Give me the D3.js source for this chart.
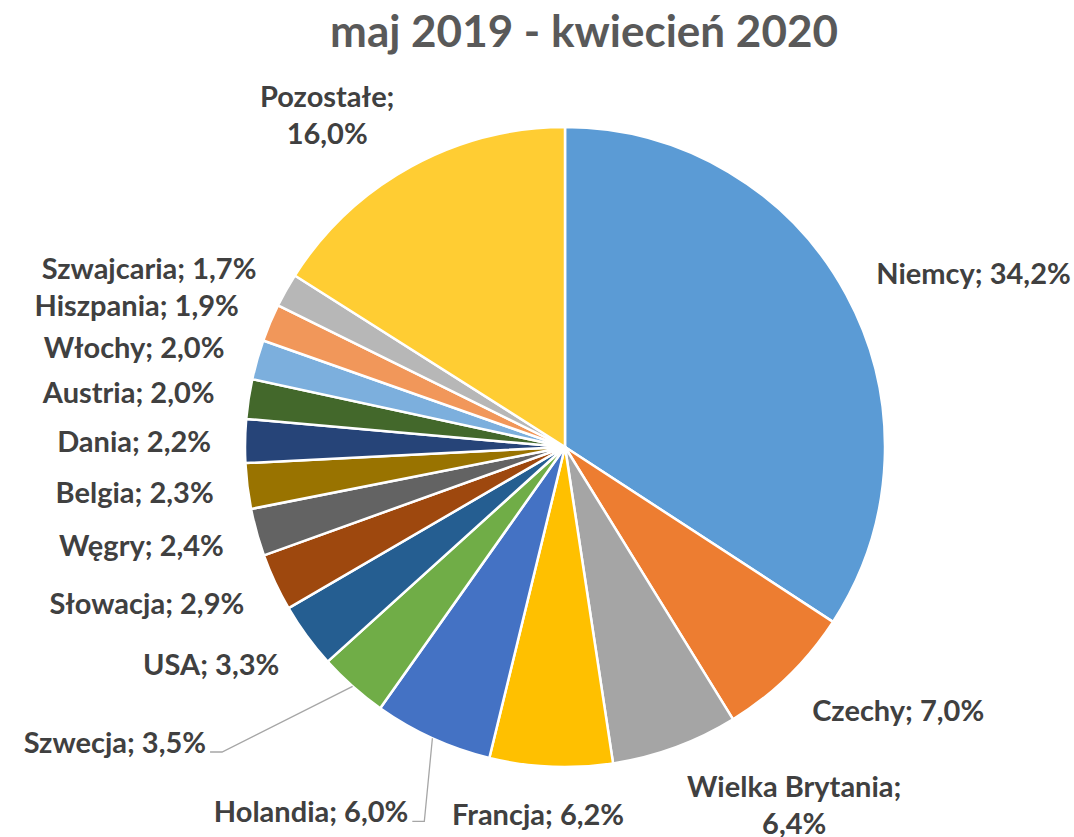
<!DOCTYPE html>
<meta charset="utf-8">
<html>
<head>
<style>
body { margin: 0; background: #fff; }
.title { font-family: Lato, "Open Sans", sans-serif; font-weight: bold; fill: #595959; }
.lbl { font-family: Lato, "Open Sans", sans-serif; font-weight: bold; fill: #404040; }
</style>
</head>
<body>
<svg width="1074" height="837"></svg>
<script src="https://cdn.jsdelivr.net/npm/d3@7"></script>
<script>

var categories = ["Niemcy", "Czechy", "Wielka Brytania", "Francja", "Holandia", "Szwecja", "USA",
  "Słowacja", "Węgry", "Belgia", "Dania", "Austria", "Włochy", "Hiszpania", "Szwajcaria", "Pozostałe"];
var values = [34.2, 7.0, 6.4, 6.2, 6.0, 3.5, 3.3, 2.9, 2.4, 2.3, 2.2, 2.0, 2.0, 1.9, 1.7, 16.0];
var colors = ["#5B9BD5", "#ED7D31", "#A5A5A5", "#FFC000", "#4472C4", "#70AD47", "#255E91",
  "#9E480E", "#636363", "#997300", "#264478", "#43682B", "#7CAFDD", "#F1975A", "#B7B7B7", "#FFCD33"];
var title = "maj 2019 - kwiecień 2020";

// labels that Excel wrapped onto two lines, and the ones it pulled away with a leader line
var wrapped = ["Wielka Brytania", "Pozostałe"];
var moved = { "Holandia": [-10, 30], "Szwecja": [-124, 20] };

var svg = d3.select("svg"),
    cx = 565, cy = 447, radius = 320, labelR = 354, lineH = 37;

svg.append("text")
    .attr("class", "title")
    .attr("x", 584).attr("y", 47)
    .attr("text-anchor", "middle")
    .style("font-size", "44px")
    .text(title);

var color = d3.scaleOrdinal().domain(categories).range(colors);
var fmt = function(v) { return d3.format(".1f")(v).replace(".", ",") + "%"; };

var arcs = d3.pie().sort(null).value(function(d) { return d; })(values);
var arc = d3.arc().innerRadius(0).outerRadius(radius);

var g = svg.append("g").attr("transform", "translate(" + cx + "," + cy + ")");

g.selectAll("path.slice")
  .data(arcs)
  .enter().append("path")
    .attr("class", "slice")
    .attr("d", arc)
    .attr("fill", function(d, i) { return color(categories[i]); })
    .attr("stroke", "#fff")
    .attr("stroke-width", 2.5)
    .attr("stroke-linejoin", "round");

var clamp = function(v) { return Math.max(-1, Math.min(1, v)); };

var leaders = g.append("g");

g.selectAll("text.lbl")
  .data(arcs)
  .enter().append("text")
    .attr("class", "lbl")
    .attr("text-anchor", "middle")
    .style("font-size", "29px")
    .each(function(d, i) {
      var t = d3.select(this);
      var name = categories[i];
      var lines = wrapped.indexOf(name) >= 0 ? [name + ";", fmt(values[i])] : [name + "; " + fmt(values[i])];
      lines.forEach(function(l, j) {
        t.append("tspan").attr("x", 0).attr("dy", j ? lineH : 0)
          .attr("dominant-baseline", "central").text(l);
      });
      var w = this.getBBox().width, h = lines.length * lineH;
      var a = (d.startAngle + d.endAngle) / 2, s = Math.sin(a), c = Math.cos(a);
      var px = s * labelR, py = -c * labelR;
      var lx = px + (w / 2) * clamp(3 * s);
      var ly = py - (h / 2) * c * 0.7;
      var off = moved[name];
      if (off) { lx += off[0]; ly += off[1]; }
      t.attr("transform", "translate(" + lx + "," + (ly - (lines.length - 1) * lineH / 2) + ")");
      if (off) {
        var ex = lx + w / 2 + 4, ey = ly + h / 2 - 8;
        leaders.append("polyline")
          .attr("points", [[s * radius, -c * radius], [ex + 12, ey], [ex, ey]].join(" "))
          .attr("fill", "none")
          .attr("stroke", "#A6A6A6")
          .attr("stroke-width", 1.3);
      }
    });

</script>
</body>
</html>
